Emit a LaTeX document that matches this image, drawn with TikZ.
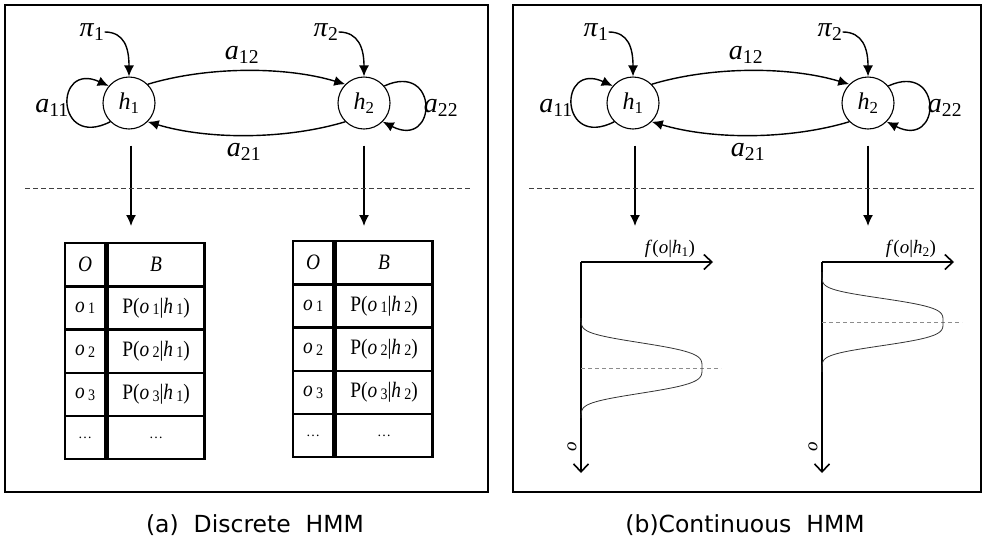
\documentclass[tikz,border=0pt]{standalone}
\usepackage{fontspec}
\setmainfont{Liberation Serif}
\newfontfamily\capfont{DejaVu Sans}
\usetikzlibrary{arrows.meta}
\newcommand\tsub[1]{\,{\fontsize{16}{16}\selectfont\raisebox{-1.5pt}{#1}}}
\newcommand\lsub[2]{\textit{#1}\textsubscript{#2}}
\newcommand\narrow[1]{\scalebox{0.88}[1]{#1}}
\tikzset{
  frame/.style={draw, line width=2.2pt},
  state/.style={circle, draw, line width=1.1pt, minimum size=52pt, inner sep=0pt, font=\fontsize{24}{24}\selectfont},
  lbl/.style={inner sep=0pt, font=\fontsize{28}{28}\selectfont},
  arr/.style={line width=1.4pt, -{Latex[length=11pt,width=10pt]}},
  sepline/.style={dash pattern=on 5pt off 3pt, line width=0.8pt, draw=black!75},
  cell/.style={draw, line width=2.4pt, inner sep=0pt, anchor=north west, minimum height=43.2pt, font=\fontsize{22}{22}\selectfont},
  ax/.style={line width=1.6pt, -{Straight Barb[length=8pt,width=15pt,line width=1.6pt]}},
  gauss/.style={line width=0.8pt, draw=black!80},
  mean/.style={dash pattern=on 4pt off 3pt, line width=0.8pt, draw=black!45},
  axlbl/.style={inner sep=0pt, font=\fontsize{19}{19}\selectfont},
  captext/.style={inner sep=0pt, font=\capfont\fontsize{23.5}{23.5}\selectfont}
}
\begin{document}
\begin{tikzpicture}[x=1pt,y=-1pt]
\useasboundingbox (0,0) rectangle (984,542);
% frames
\draw[frame] (5,5) rectangle (488,492);
\draw[frame] (513,5) rectangle (981,492);
% top parts of both panels
\foreach \p/\d in {L/0,R/504}{
  \node[state] (\p h1) at (129+\d,103) {\lsub{h}{1}};
  \node[state] (\p h2) at (364+\d,103) {\lsub{h}{2}};
  \node[lbl] (\p pi1) at (92+\d,32) {\lsub{π}{1}};
  \node[lbl] (\p pi2) at (326+\d,32) {\lsub{π}{2}};
  \node[lbl] (\p a12) at (242+\d,55) {\lsub{a}{12}};
  \node[lbl] (\p a21) at (244+\d,152) {\lsub{a}{21}};
  \node[lbl] (\p a11) at (52+\d,108) {\lsub{a}{11}};
  \node[lbl] (\p a22) at (441+\d,108) {\lsub{a}{22}};
  \draw[arr] (\p pi1.east) .. controls +(20,0) and +(0,-28) .. (\p h1.north);
  \draw[arr] (\p pi2.east) .. controls +(20,0) and +(0,-28) .. (\p h2.north);
  \draw[arr] (\p h1.45) .. controls +(60,-18) and +(-60,-18) .. (\p h2.135);
  \draw[arr] (\p h2.-135) .. controls +(-60,18) and +(60,18) .. (\p h1.-45);
  \draw[arr] (\p h1.225) .. controls +(-55,28) and +(-55,-25) .. (\p h1.140);
  \draw[arr] (\p h2.40) .. controls +(55,-25) and +(55,28) .. (\p h2.-45);
  \coordinate (\p e1) at (131+\d,226);
  \coordinate (\p e2) at (364+\d,226);
  \draw[arr, shorten <=16pt] (\p h1.south -| \p e1) -- (\p e1);
  \draw[arr, shorten <=16pt] (\p h2.south -| \p e2) -- (\p e2);
  \coordinate (\p s1) at (25+\d,188);
  \coordinate (\p s2) at (470+\d,188);
  \draw[sepline] (\p s1) -- (\p s2);
}
% tables (discrete HMM)
\foreach \p/\X/\Y/\H in {A/64/242/1,B/292/240/2}{
  \node[cell, minimum width=40pt] (\p O0) at (\X,\Y) {\narrow{\textit{O}}};
  \node[cell, minimum width=97pt] (\p B0) at (\p O0.north east) {\narrow{\textit{B}}};
  \foreach \i in {1,2,3}{
    \node[cell, minimum width=40pt] (\p O\i) at (\X,\Y+43.2*\i) {\narrow{\textit{o}\tsub{\i}}};
    \node[cell, minimum width=97pt] (\p B\i) at (\p O\i.north east) {\narrow{P(\textit{o}\tsub{\i}|\textit{h}\tsub{\H})}};
  }
  \node[cell, minimum width=40pt] (\p O4) at (\X,\Y+43.2*4) {\fontsize{14}{14}\selectfont\dots};
  \node[cell, minimum width=97pt] (\p B4) at (\p O4.north east) {\fontsize{14}{14}\selectfont\dots};
}
% continuous HMM plots
\foreach \p/\X/\C/\W/\H in {P/581/368/27.7/1,Q/822/322/26/2}{
  \coordinate (\p org) at (\X,262);
  \coordinate (\p xe) at (\X+132,262);
  \coordinate (\p ye) at (\X,473);
  \draw[ax] (\p org) -- (\p xe);
  \draw[ax] (\p org) -- (\p ye);
  \node[axlbl] (\p f) at (\X+89,249) {\textit{f}(\textit{o}|\lsub{h}{\H})};
  \node[axlbl, rotate=90] (\p o) at (\X-9,447) {\textit{o}};
  \coordinate (\p m1) at (\X,\C);
  \coordinate (\p m2) at (\X+140,\C);
  \draw[mean] (\p m1) -- (\p m2);
  \draw[gauss] plot[domain=-50:50, samples=100, smooth] ({\X+121*exp(-pow(abs(\x)/\W+0.0001,3.75))},{\C+\x});
}
% captions
\node[captext] (capa) at (255,525) {(a)\ \ Discrete\ \ HMM};
\node[captext] (capb) at (745,525) {(b)Continuous\ \ HMM};
\end{tikzpicture}
\end{document}
